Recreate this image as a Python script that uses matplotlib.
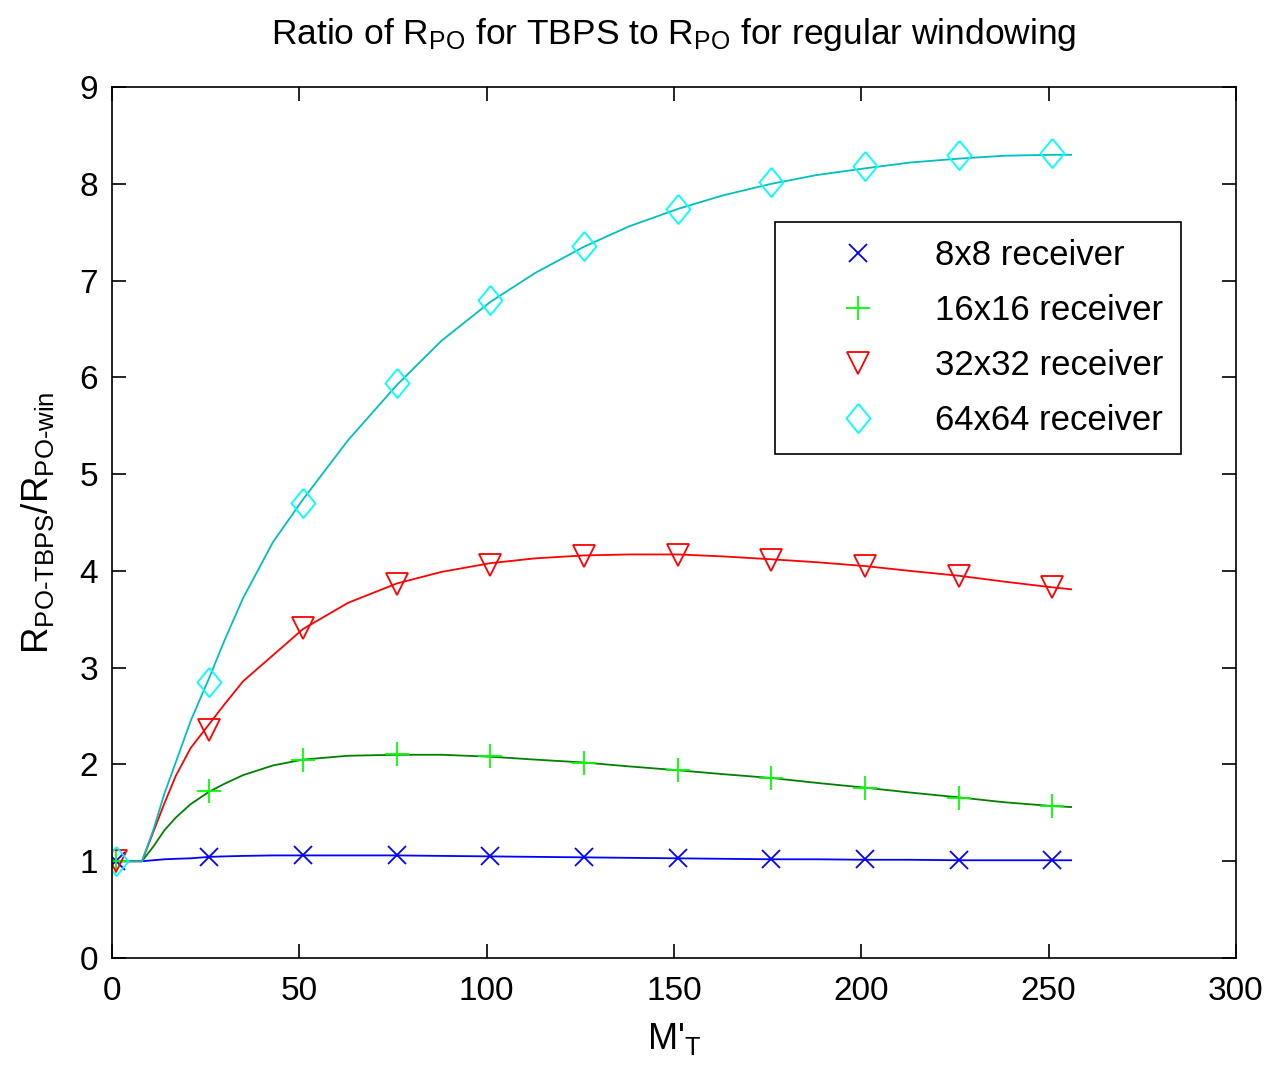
import numpy as np
import matplotlib
matplotlib.use("Agg")
import matplotlib.pyplot as plt

plt.rcParams['font.family'] = ['Liberation Sans', 'DejaVu Sans']
plt.rcParams['mathtext.fontset'] = 'custom'
plt.rcParams['mathtext.rm'] = 'Liberation Sans'
plt.rcParams['mathtext.it'] = 'Liberation Sans'

# curve samples
x_line = [1, 8, 11, 14, 17, 21, 26, 30, 35, 43, 51, 63, 76, 88, 101, 113, 126, 138, 151,
          163, 176, 188, 201, 213, 226, 238, 251, 256]
r8_line = [1.0, 1.0, 1.01, 1.02, 1.025, 1.03, 1.045, 1.05, 1.055, 1.06, 1.06, 1.06, 1.06, 1.055, 1.05,
           1.045, 1.04, 1.035, 1.03, 1.025, 1.02, 1.02, 1.015, 1.015, 1.01, 1.01, 1.01, 1.01]
r16_line = [1.0, 1.0, 1.15, 1.32, 1.45, 1.59, 1.72, 1.80, 1.89, 1.99, 2.05, 2.09, 2.10, 2.10, 2.08,
            2.05, 2.02, 1.98, 1.94, 1.90, 1.86, 1.81, 1.76, 1.71, 1.66, 1.61, 1.57, 1.56]
r32_line = [1.0, 1.0, 1.3, 1.6, 1.88, 2.17, 2.42, 2.62, 2.86, 3.13, 3.40, 3.67, 3.87, 3.99, 4.08,
            4.13, 4.16, 4.17, 4.17, 4.15, 4.12, 4.09, 4.05, 4.00, 3.95, 3.89, 3.83, 3.81]
r64_line = [1.0, 1.0, 1.32, 1.7, 2.02, 2.45, 2.9, 3.28, 3.72, 4.3, 4.74, 5.35, 5.92, 6.38, 6.78,
            7.08, 7.35, 7.56, 7.74, 7.88, 8.00, 8.09, 8.16, 8.22, 8.26, 8.29, 8.30, 8.30]

# marker positions
x_mark = [1, 26, 51, 76, 101, 126, 151, 176, 201, 226, 251]
r8_mark = [1.0, 1.04, 1.06, 1.06, 1.05, 1.04, 1.03, 1.02, 1.02, 1.01, 1.01]
r16_mark = [1.0, 1.73, 2.05, 2.11, 2.09, 2.02, 1.94, 1.86, 1.76, 1.65, 1.57]
r32_mark = [1.0, 2.36, 3.41, 3.86, 4.06, 4.15, 4.16, 4.11, 4.05, 3.95, 3.83]
r64_mark = [1.0, 2.85, 4.70, 5.94, 6.80, 7.36, 7.74, 8.02, 8.18, 8.30, 8.32]

labels = ['8x8 receiver', '16x16 receiver', '32x32 receiver', '64x64 receiver']

# matlab-ish diamond (a bit taller than wide)
diamond = [(0, 1), (0.82, 0), (0, -1), (-0.82, 0), (0, 1)]

fig = plt.figure(figsize=(12.7, 10.68), dpi=100)
ax = fig.add_axes([0.0882, 0.103, 0.885, 0.8155])

ax.plot(x_line, r8_line, color='#0000ff', lw=1.3)
ax.plot(x_line, r16_line, color='#008000', lw=1.3)
ax.plot(x_line, r32_line, color='#ff0000', lw=1.3)
ax.plot(x_line, r64_line, color='#00bfbf', lw=1.3)

ax.plot(x_mark, r8_mark, ls='none', marker='x', ms=13, mew=1.3, color='#0000ff', label=labels[0])
ax.plot(x_mark, r16_mark, ls='none', marker='+', ms=17, mew=1.3, color='#00ff00', label=labels[1])
ax.plot(x_mark, r32_mark, ls='none', marker='v', ms=16, mew=1.3, mfc='none', color='#ff0000', label=labels[2])
ax.plot(x_mark, r64_mark, ls='none', marker=diamond, ms=21, mew=1.3, mfc='none', color='#00ffff', label=labels[3])

ax.set_xlim(0, 300)
ax.set_ylim(0, 9)
ax.set_xticks(np.arange(0, 301, 50))
ax.set_yticks(np.arange(0, 10, 1))
ax.tick_params(direction='in', top=True, right=True, labelsize=24, length=10, width=1.2)
ax.tick_params(axis='x', pad=13)
ax.tick_params(axis='y', pad=10)
for s in ax.spines.values():
    s.set_linewidth(1.2)

ax.set_title(r'Ratio of R$_\mathregular{PO}$ for TBPS to R$_\mathregular{PO}$ for regular windowing',
             fontsize=25.5, pad=31)
ax.set_xlabel(r"M'$_\mathregular{T}$", fontsize=26, labelpad=10)
ax.set_ylabel(r'R$_\mathregular{PO\text{-}TBPS}$/R$_\mathregular{PO\text{-}win}$', fontsize=26.5, labelpad=17)

leg = ax.legend(loc='upper left', bbox_to_anchor=(0.59, 0.845), fontsize=25, fancybox=False,
                edgecolor='black', framealpha=1, handlelength=3.8, handletextpad=0.3,
                borderpad=0.5, labelspacing=0.63, borderaxespad=0)
leg.get_frame().set_linewidth(1.2)

fig.savefig('out.png', dpi=100)
